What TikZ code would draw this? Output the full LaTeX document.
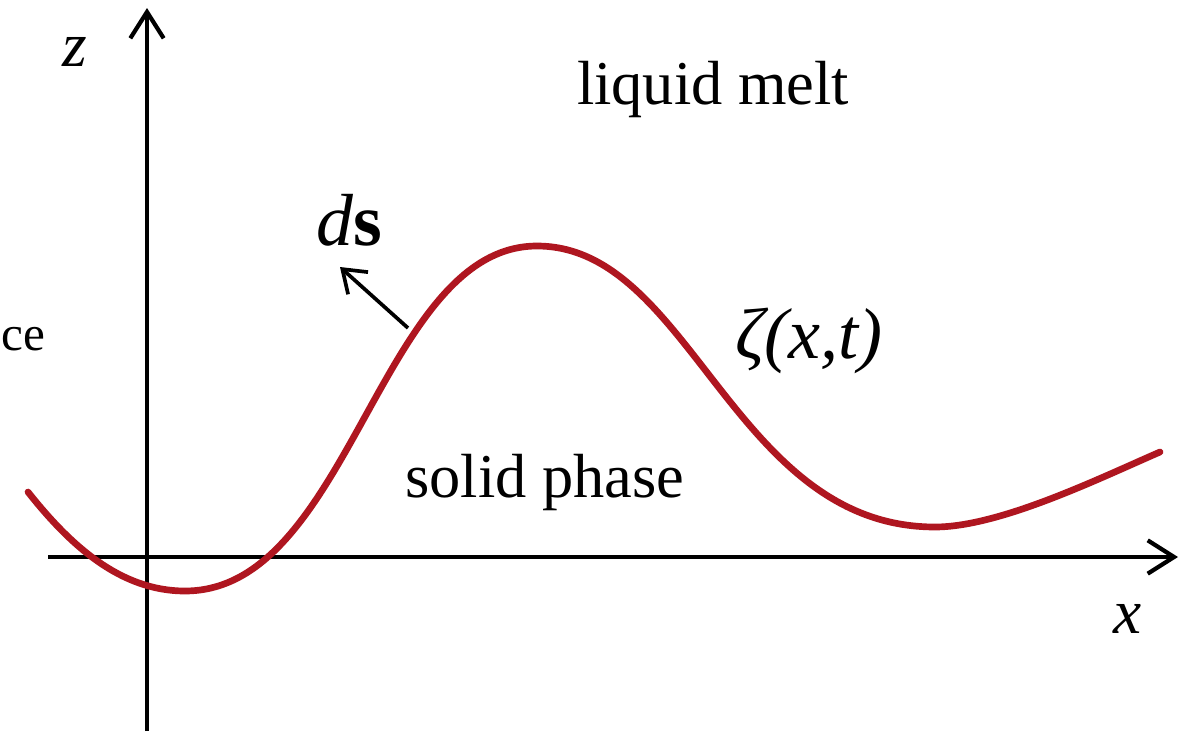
\documentclass[tikz,border=0pt]{standalone}
\usepackage{fontspec}
\setmainfont{Liberation Serif}
\usetikzlibrary{arrows.meta}
\definecolor{curvered}{RGB}{175,22,32}
\begin{document}
\begin{tikzpicture}[x=0.02cm,y=-0.02cm,
  axis/.style={line width=2.4pt,-{Straight Barb[length=15pt,width=19pt,line width=2.4pt]}},
  normalarrow/.style={line width=2.1pt,-{Straight Barb[length=12pt,width=17pt,line width=2.1pt]}},
  interface/.style={curvered,line width=3.8pt,line cap=round},
  lbl/.style={inner sep=0pt,font=\fontsize{35.5}{40}\selectfont},
  mathlbl/.style={inner sep=0pt,font=\fontsize{36}{40}\selectfont\itshape}]
\useasboundingbox (0,0) rectangle (1181,731);
\fill[white] (0,0) rectangle (1181,731);
% axes
\coordinate (zbot) at (147,731);
\coordinate (ztop) at (147,8);
\coordinate (xleft) at (48,557);
\coordinate (xright) at (1178,557);
\draw[axis] (zbot) -- (ztop);
\draw[axis] (xleft) -- (xright);
% interface curve
\coordinate (c0) at (28,492);
\coordinate (cmin1) at (185,591);
\coordinate (cpeak) at (537,246);
\coordinate (cmin2) at (935,527);
\coordinate (cend) at (1160,452);
\draw[interface] (c0) .. controls (70,545) and (120,591) .. (cmin1)
  .. controls (350,591) and (380,246) .. (cpeak)
  .. controls (691,246) and (733,527) .. (cmin2)
  .. controls (1000,527) and (1100,478) .. (cend);
% normal vector
\coordinate (ds0) at (408,328);
\coordinate (ds1) at (340,267);
\draw[normalarrow] (ds0) -- (ds1);
% labels
\node[mathlbl,anchor=base] (zl) at (75,66) {z};
\node[mathlbl,anchor=base] (xl) at (1128,633) {x};
\node[lbl,anchor=base] (liquid) at (713,104) {liquid melt};
\node[lbl,anchor=base] (solid) at (545,497) {solid phase};
\node[lbl,anchor=base west,font=\fontsize{28}{32}\selectfont] (ce) at (1,350) {ce};
\node[inner sep=0pt,anchor=base,font=\fontsize{42}{46}\selectfont] (dsl) at (349,245) {\textit{d}\textbf{s}};
\node[mathlbl,anchor=base,font=\fontsize{41}{46}\selectfont\itshape] (zeta) at (809,358) {ζ(x,t)};
\end{tikzpicture}
\end{document}
